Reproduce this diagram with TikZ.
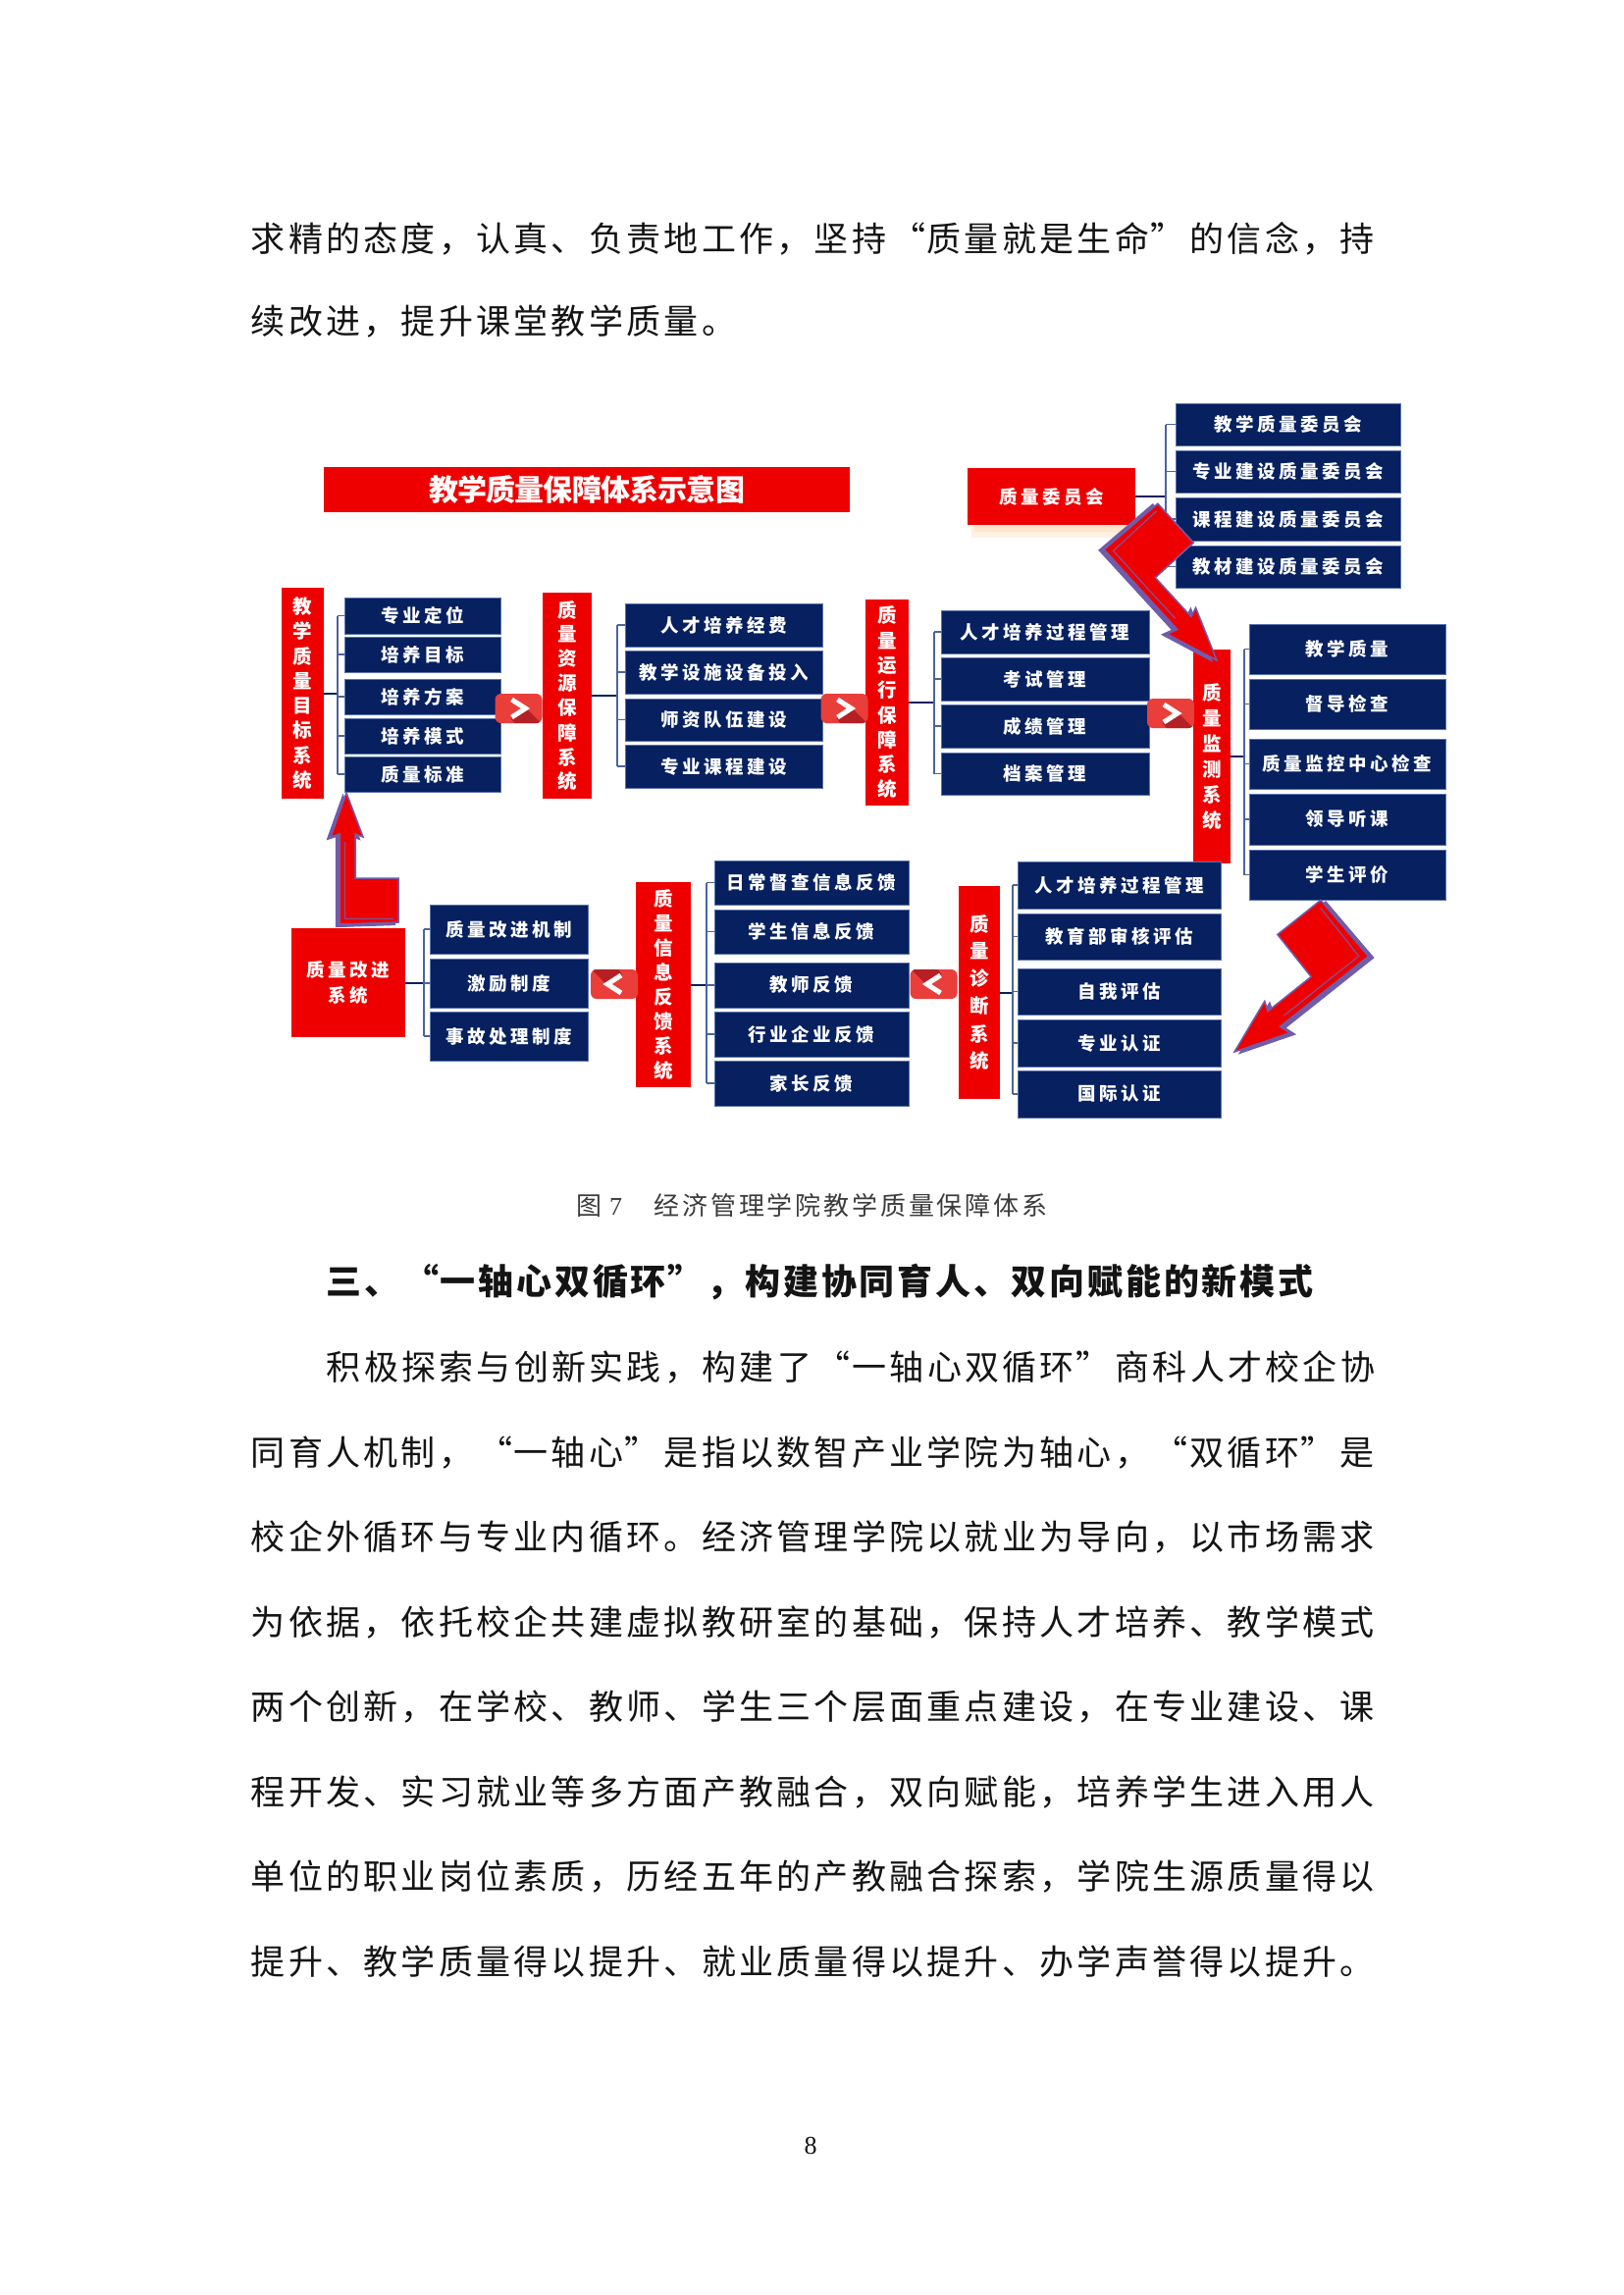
\documentclass[tikz,border=0pt]{standalone}
\usepackage{fontspec}
\newfontfamily\cjk{Noto Sans CJK SC}
\newfontfamily\numfont{Liberation Serif}
\usetikzlibrary{calc}
\definecolor{navy}{RGB}{6,32,96}
\definecolor{navyedge}{RGB}{90,115,175}
\definecolor{qred}{RGB}{238,0,0}
\definecolor{chevred}{RGB}{234,62,58}
\definecolor{chevdark}{RGB}{180,32,36}
\definecolor{brkcol}{RGB}{75,100,155}
\definecolor{boltedge}{RGB}{112,92,168}
\definecolor{txt}{RGB}{20,20,20}
\definecolor{captxt}{RGB}{60,60,60}

\ExplSyntaxOn
\NewDocumentCommand\spaced{mm}{
  \tl_map_inline:nn {#2} {
    \str_case:nnF {##1}
      { {“}{\makebox[#1][r]{##1}} {”}{\makebox[#1][l]{##1}} }
      { \makebox[#1][c]{##1} }
  }
}
\NewDocumentCommand\vstack{mm}{
  \vbox{\offinterlineskip
    \tl_map_inline:nn {#2} {
      \hbox_to_wd:nn {1.3em} { \hss \vbox_to_ht:nn {#1} { \vss \hbox:n {##1} \vss } \hss }
    }
  }
}
\ExplSyntaxOff

\newcommand\qbx[7]{\node[#6, minimum width={#4-#2}, minimum height={#5-#3}] (#1) at ({(#2+#4)/2},{(#3+#5)/2}) {#7};}
\newcommand\qbracket[5]{%
  \coordinate (sp#1) at (#2,0);
  \draw[brkmain] (#1.east) -- (#1.east -| sp#1);
  \draw[brk] (#3.west -| sp#1) -- (#4.west -| sp#1);
  \foreach \b in {#5} {\draw[brk] (\b.west -| sp#1) -- (\b.west);}
}
\newcommand\qchev[4]{%
  \node[chev] (#1) at (#2,#3) {};
  \begin{scope}[shift={(#1.center)}, rotate=#4]
    \clip[rounded corners=6pt] (-24,-15) rectangle (24,15);
    \fill[chevdark] (7,-1) -- (26,18) -- (-2,18) -- (-8,10) -- cycle;
    \draw[white, line width=5pt, line join=miter, line cap=butt] (-7,-9) -- (7,0) -- (-7,9);
  \end{scope}
}

\tikzset{
  bluebox/.style={fill=navy, draw=navyedge, line width=1pt, text=white, inner sep=0pt, outer sep=0pt,
    font=\cjk\bfseries\fontsize{18.5pt}{18.5pt}\selectfont},
  redbox/.style={fill=qred, draw=none, text=white, inner sep=0pt, outer sep=0pt,
    font=\cjk\bfseries\fontsize{19.5pt}{19.5pt}\selectfont},
  qcbox/.style={fill=qred, draw=none, text=white, inner sep=0pt, outer sep=0pt, align=center,
    font=\cjk\bfseries\fontsize{18.5pt}{26pt}\selectfont},
  titlebar/.style={fill=qred, draw=none, text=white, inner sep=0pt, outer sep=0pt,
    font=\cjk\bfseries\fontsize{30pt}{30pt}\selectfont},
  brk/.style={draw=brkcol, line width=1.3pt},
  brkmain/.style={draw=navy, line width=2pt},
  chev/.style={fill=chevred, rounded corners=6pt, inner sep=0pt, outer sep=0pt, minimum width=48pt, minimum height=30pt},
  bodytext/.style={anchor=west, inner sep=0pt, text=txt, font=\cjk\fontsize{35pt}{35pt}\selectfont},
  bolt/.pic={
    \filldraw[fill=boltedge, draw=boltedge, line width=1.2pt, shift={(-3.5,2.5)}]
      (0,0) -- (17,45) -- (9,42) -- (9,87) -- (53,87) -- (53,132) -- (-7,134) -- (-7,42) -- (-16,45) -- cycle;
    \filldraw[fill=qred, draw=boltedge, line width=1.5pt]
      (0,0) -- (17,45) -- (9,42) -- (9,87) -- (53,87) -- (53,132) -- (-7,134) -- (-7,42) -- (-16,45) -- cycle;
    \draw[boltedge, line width=1pt] (-2,50) -- (-2,128) -- (48,128);
  }
}

\begin{document}
\begin{tikzpicture}[x=1pt,y=-1pt]
\useasboundingbox (0,0) rectangle (1654,2339);
\fill[white] (0,0) rectangle (1654,2339);

% ---- text above the figure
\node[bodytext] (p1) at (254,243) {\spaced{38.27pt}{求精的态度，认真、负责地工作，坚持“质量就是生命”的信念，持}};
\node[bodytext] (p2) at (254,328) {\spaced{38.27pt}{续改进，提升课堂教学质量。}};

% ---- title
\qbx{title}{330}{476}{866}{522}{titlebar}{\spaced{29.2pt}{教学质量保障体系示意图}}

% ---- quality committee
\fill[orange!60, opacity=0.18] (990,533) rectangle (1160,548);
\fill[orange!60, opacity=0.18] (993,533) rectangle (1158,542);
\qbx{qc}{986}{477}{1157}{535}{qcbox}{\spaced{22pt}{质量委员会}}
\qbx{d1}{1198}{411}{1427}{454}{bluebox}{\spaced{22pt}{教学质量委员会}}
\qbx{d2}{1198}{459}{1427}{502}{bluebox}{\spaced{22pt}{专业建设质量委员会}}
\qbx{d3}{1198}{507}{1427}{551}{bluebox}{\spaced{22pt}{课程建设质量委员会}}
\qbx{d4}{1198}{556}{1427}{599}{bluebox}{\spaced{22pt}{教材建设质量委员会}}
\qbracket{qc}{1188}{d1}{d4}{d1,d2,d3,d4}

% ---- goal system
\qbx{r1}{287}{599}{330}{814}{redbox}{\vstack{25.3pt}{教学质量目标系统}}
\qbx{a1}{351}{609}{510}{646}{bluebox}{\spaced{22pt}{专业定位}}
\qbx{a2}{351}{649}{510}{685}{bluebox}{\spaced{22pt}{培养目标}}
\qbx{a3}{351}{692}{510}{728}{bluebox}{\spaced{22pt}{培养方案}}
\qbx{a4}{351}{732}{510}{768}{bluebox}{\spaced{22pt}{培养模式}}
\qbx{a5}{351}{771}{510}{807}{bluebox}{\spaced{22pt}{质量标准}}
\qbracket{r1}{344}{a1}{a5}{a1,a2,a3,a4,a5}

% ---- resource system
\qbx{r2}{553}{604}{603}{814}{redbox}{\vstack{25pt}{质量资源保障系统}}
\qbx{b1}{637}{615}{838}{659}{bluebox}{\spaced{22pt}{人才培养经费}}
\qbx{b2}{637}{663}{838}{707}{bluebox}{\spaced{22pt}{教学设施设备投入}}
\qbx{b3}{637}{712}{838}{755}{bluebox}{\spaced{22pt}{师资队伍建设}}
\qbx{b4}{637}{759}{838}{803}{bluebox}{\spaced{22pt}{专业课程建设}}
\qbracket{r2}{629}{b1}{b4}{b1,b2,b3,b4}

% ---- operation system
\qbx{r3}{882}{611}{926}{821}{redbox}{\vstack{25.3pt}{质量运行保障系统}}
\qbx{c1}{959}{622}{1171}{666}{bluebox}{\spaced{22pt}{人才培养过程管理}}
\qbx{c2}{959}{670}{1171}{714}{bluebox}{\spaced{22pt}{考试管理}}
\qbx{c3}{959}{718}{1171}{762}{bluebox}{\spaced{22pt}{成绩管理}}
\qbx{c4}{959}{767}{1171}{810}{bluebox}{\spaced{22pt}{档案管理}}
\qbracket{r3}{952}{c1}{c4}{c1,c2,c3,c4}

% ---- monitoring system
\qbx{r4}{1216}{662}{1254}{880}{redbox}{\vstack{26pt}{质量监测系统}}
\qbx{e1}{1273}{636}{1473}{687}{bluebox}{\spaced{22pt}{教学质量}}
\qbx{e2}{1273}{692}{1473}{743}{bluebox}{\spaced{22pt}{督导检查}}
\qbx{e3}{1273}{753}{1473}{804}{bluebox}{\spaced{22pt}{质量监控中心检查}}
\qbx{e4}{1273}{809}{1473}{861}{bluebox}{\spaced{22pt}{领导听课}}
\qbx{e5}{1273}{866}{1473}{917}{bluebox}{\spaced{22pt}{学生评价}}
\qbracket{r4}{1268}{e1}{e5}{e1,e2,e3,e4,e5}

% ---- diagnosis system
\qbx{r6}{977}{903}{1019}{1120}{redbox}{\vstack{28pt}{质量诊断系统}}
\qbx{f1}{1037}{878}{1244}{926}{bluebox}{\spaced{22pt}{人才培养过程管理}}
\qbx{f2}{1037}{931}{1244}{978}{bluebox}{\spaced{22pt}{教育部审核评估}}
\qbx{f3}{1037}{987}{1244}{1034}{bluebox}{\spaced{22pt}{自我评估}}
\qbx{f4}{1037}{1039}{1244}{1087}{bluebox}{\spaced{22pt}{专业认证}}
\qbx{f5}{1037}{1091}{1244}{1139}{bluebox}{\spaced{22pt}{国际认证}}
\qbracket{r6}{1032}{f1}{f5}{f1,f2,f3,f4,f5}

% ---- feedback system
\qbx{r5}{648}{899}{704}{1108}{redbox}{\vstack{25.1pt}{质量信息反馈系统}}
\qbx{g1}{728}{877}{926}{922}{bluebox}{\spaced{22pt}{日常督查信息反馈}}
\qbx{g2}{728}{927}{926}{972}{bluebox}{\spaced{22pt}{学生信息反馈}}
\qbx{g3}{728}{981}{926}{1027}{bluebox}{\spaced{22pt}{教师反馈}}
\qbx{g4}{728}{1031}{926}{1077}{bluebox}{\spaced{22pt}{行业企业反馈}}
\qbx{g5}{728}{1081}{926}{1127}{bluebox}{\spaced{22pt}{家长反馈}}
\qbracket{r5}{720}{g1}{g5}{g1,g2,g3,g4,g5}

% ---- improvement system
\qbx{qi}{297}{946}{413}{1057}{qcbox}{\spaced{22pt}{质量改进}\\\spaced{22pt}{系统}}
\qbx{h1}{438}{922}{599}{972}{bluebox}{\spaced{22pt}{质量改进机制}}
\qbx{h2}{438}{977}{599}{1027}{bluebox}{\spaced{22pt}{激励制度}}
\qbx{h3}{438}{1031}{599}{1081}{bluebox}{\spaced{22pt}{事故处理制度}}
\qbracket{qi}{432}{h1}{h3}{h1,h2,h3}

% ---- chevron arrows
\qchev{cv1}{528.5}{722}{0}
\qchev{cv2}{860.5}{722}{0}
\qchev{cv3}{1193}{727}{0}
\qchev{cv4}{626}{1003}{180}
\qchev{cv5}{951.5}{1003}{180}

% ---- lightning arrows
\pic at (353,808) {bolt};
\pic[rotate=222.5, xscale=-1.2, yscale=1.2] at (1240,673) {bolt};
\pic[rotate=128.5, scale=1.25] at (1258,1072) {bolt};

% ---- caption
\node[anchor=west, inner sep=0pt, text=captxt, font=\cjk\fontsize{26pt}{26pt}\selectfont] (cap) at (586,1229)
  {\makebox[28.8pt]{图}\makebox[50.4pt][l]{\hspace{6pt}{\numfont 7}}\spaced{28.8pt}{经济管理学院教学质量保障体系}};

% ---- heading
\node[anchor=west, inner sep=0pt, text=txt, font=\cjk\bfseries\fontsize{36pt}{36pt}\selectfont] (head) at (331,1307)
  {\spaced{38.8pt}{三、“一轴心双循环”，构建协同育人、双向赋能的新模式}};

% ---- paragraph
\node[bodytext] (q1) at (331,1393) {\spaced{38.27pt}{积极探索与创新实践，构建了“一轴心双循环”商科人才校企协}};
\node[bodytext] (q2) at (254,1480) {\spaced{38.27pt}{同育人机制，“一轴心”是指以数智产业学院为轴心，“双循环”是}};
\node[bodytext] (q3) at (254,1566) {\spaced{38.27pt}{校企外循环与专业内循环。经济管理学院以就业为导向，以市场需求}};
\node[bodytext] (q4) at (254,1653) {\spaced{38.27pt}{为依据，依托校企共建虚拟教研室的基础，保持人才培养、教学模式}};
\node[bodytext] (q5) at (254,1739) {\spaced{38.27pt}{两个创新，在学校、教师、学生三个层面重点建设，在专业建设、课}};
\node[bodytext] (q6) at (254,1826) {\spaced{38.27pt}{程开发、实习就业等多方面产教融合，双向赋能，培养学生进入用人}};
\node[bodytext] (q7) at (254,1912) {\spaced{38.27pt}{单位的职业岗位素质，历经五年的产教融合探索，学院生源质量得以}};
\node[bodytext] (q8) at (254,1999) {\spaced{38.27pt}{提升、教学质量得以提升、就业质量得以提升、办学声誉得以提升。}};

% ---- page number
\node[inner sep=0pt, text=txt, font=\numfont\fontsize{26pt}{26pt}\selectfont] (pn) at (826,2187) {8};
\end{tikzpicture}
\end{document}
